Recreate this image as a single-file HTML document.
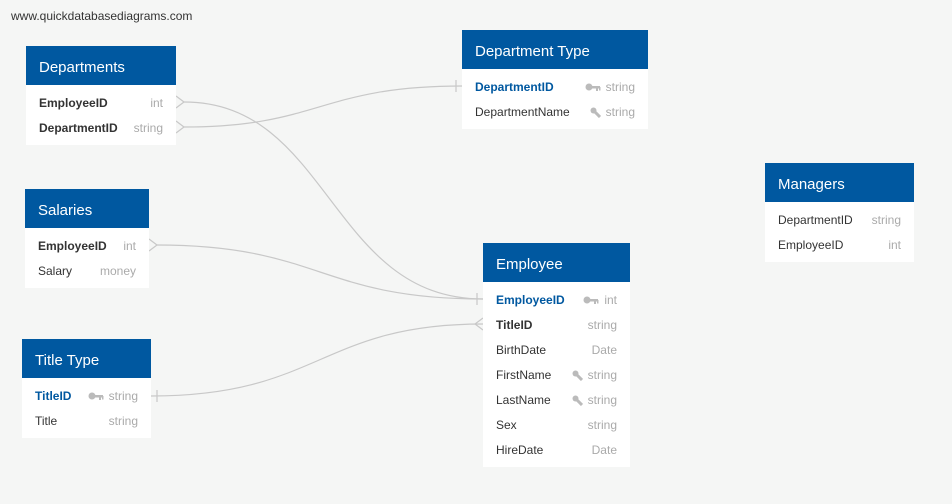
<!DOCTYPE html>
<html><head><meta charset="utf-8"><style>
body{margin:0;width:952px;height:504px;background:#f5f6f5;position:relative;overflow:hidden;font-family:"Liberation Sans",Arial,sans-serif}
.t{position:absolute;background:#fff}
.h{background:#0058a0;color:#fff;font-size:15px;height:39px;line-height:39px;padding-left:13px;padding-top:2px;box-sizing:border-box}
.b{padding:6px 13px 4px 13px}
.r{height:25px;line-height:25px;font-size:12px;color:#333;display:flex;justify-content:space-between;white-space:nowrap}
.r .ty{color:#aaa}
.pk{color:#0058a0;font-weight:bold}
.fk{font-weight:bold;color:#333}
.ic{display:inline-block;vertical-align:middle;margin-right:5px}
.url{position:absolute;left:11px;top:9px;font-size:12px;color:#333}
svg.l{position:absolute;left:0;top:0}
</style></head><body>
<div class="url">www.quickdatabasediagrams.com</div>
<svg class="l" width="952" height="504" fill="none" stroke="#c8c8c8" stroke-width="1.2">
<path d="M184 102 C330 102,330 299,483 299"/>
<path d="M184 127 C320 127,320 86,462 86"/>
<path d="M157 245 C320 245,320 299,483 299"/>
<path d="M151 396 C320 396,320 324,483 324"/>
<path d="M176 96 L184 102 L176 108"/>
<path d="M176 121 L184 127 L176 133"/>
<path d="M149 239 L157 245 L149 251"/>
<path d="M456 80 V92"/>
<path d="M477 293 V305"/>
<path d="M157 390 V402"/>
<path d="M483 318 L475 324 L483 330"/>
</svg>
<svg width="0" height="0" style="position:absolute"><defs>
<g id="key"><circle cx="4" cy="4" r="3.5" fill="#bbb"/><rect x="6" y="3" width="9" height="2.5" fill="#bbb"/><rect x="11" y="4" width="2" height="4" fill="#bbb"/><rect x="14" y="4" width="1.5" height="3.5" fill="#bbb"/></g>
<g id="wr"><circle cx="3.5" cy="3.5" r="3" fill="#bbb"/><path d="M4 4 L10 10" stroke="#bbb" stroke-width="3"/></g>
</defs></svg>

<div class="t" style="left:26px;top:46px;width:150px"><div class="h">Departments</div><div class="b">
<div class="r"><span class="fk">EmployeeID</span><span class="ty">int</span></div>
<div class="r"><span class="fk">DepartmentID</span><span class="ty">string</span></div></div></div>

<div class="t" style="left:462px;top:30px;width:186px"><div class="h">Department Type</div><div class="b">
<div class="r"><span class="pk">DepartmentID</span><span class="ty"><svg class="ic" width="16" height="9"><use href="#key"/></svg>string</span></div>
<div class="r"><span>DepartmentName</span><span class="ty"><svg class="ic" width="11" height="11"><use href="#wr"/></svg>string</span></div></div></div>

<div class="t" style="left:765px;top:163px;width:149px"><div class="h">Managers</div><div class="b">
<div class="r"><span>DepartmentID</span><span class="ty">string</span></div>
<div class="r"><span>EmployeeID</span><span class="ty">int</span></div></div></div>

<div class="t" style="left:25px;top:189px;width:124px"><div class="h">Salaries</div><div class="b">
<div class="r"><span class="fk">EmployeeID</span><span class="ty">int</span></div>
<div class="r"><span>Salary</span><span class="ty">money</span></div></div></div>

<div class="t" style="left:22px;top:339px;width:129px"><div class="h">Title Type</div><div class="b">
<div class="r"><span class="pk">TitleID</span><span class="ty"><svg class="ic" width="16" height="9"><use href="#key"/></svg>string</span></div>
<div class="r"><span>Title</span><span class="ty">string</span></div></div></div>

<div class="t" style="left:483px;top:243px;width:147px"><div class="h">Employee</div><div class="b">
<div class="r"><span class="pk">EmployeeID</span><span class="ty"><svg class="ic" width="16" height="9"><use href="#key"/></svg>int</span></div>
<div class="r"><span class="fk">TitleID</span><span class="ty">string</span></div>
<div class="r"><span>BirthDate</span><span class="ty">Date</span></div>
<div class="r"><span>FirstName</span><span class="ty"><svg class="ic" width="11" height="11"><use href="#wr"/></svg>string</span></div>
<div class="r"><span>LastName</span><span class="ty"><svg class="ic" width="11" height="11"><use href="#wr"/></svg>string</span></div>
<div class="r"><span>Sex</span><span class="ty">string</span></div>
<div class="r"><span>HireDate</span><span class="ty">Date</span></div></div></div>
</body></html>
